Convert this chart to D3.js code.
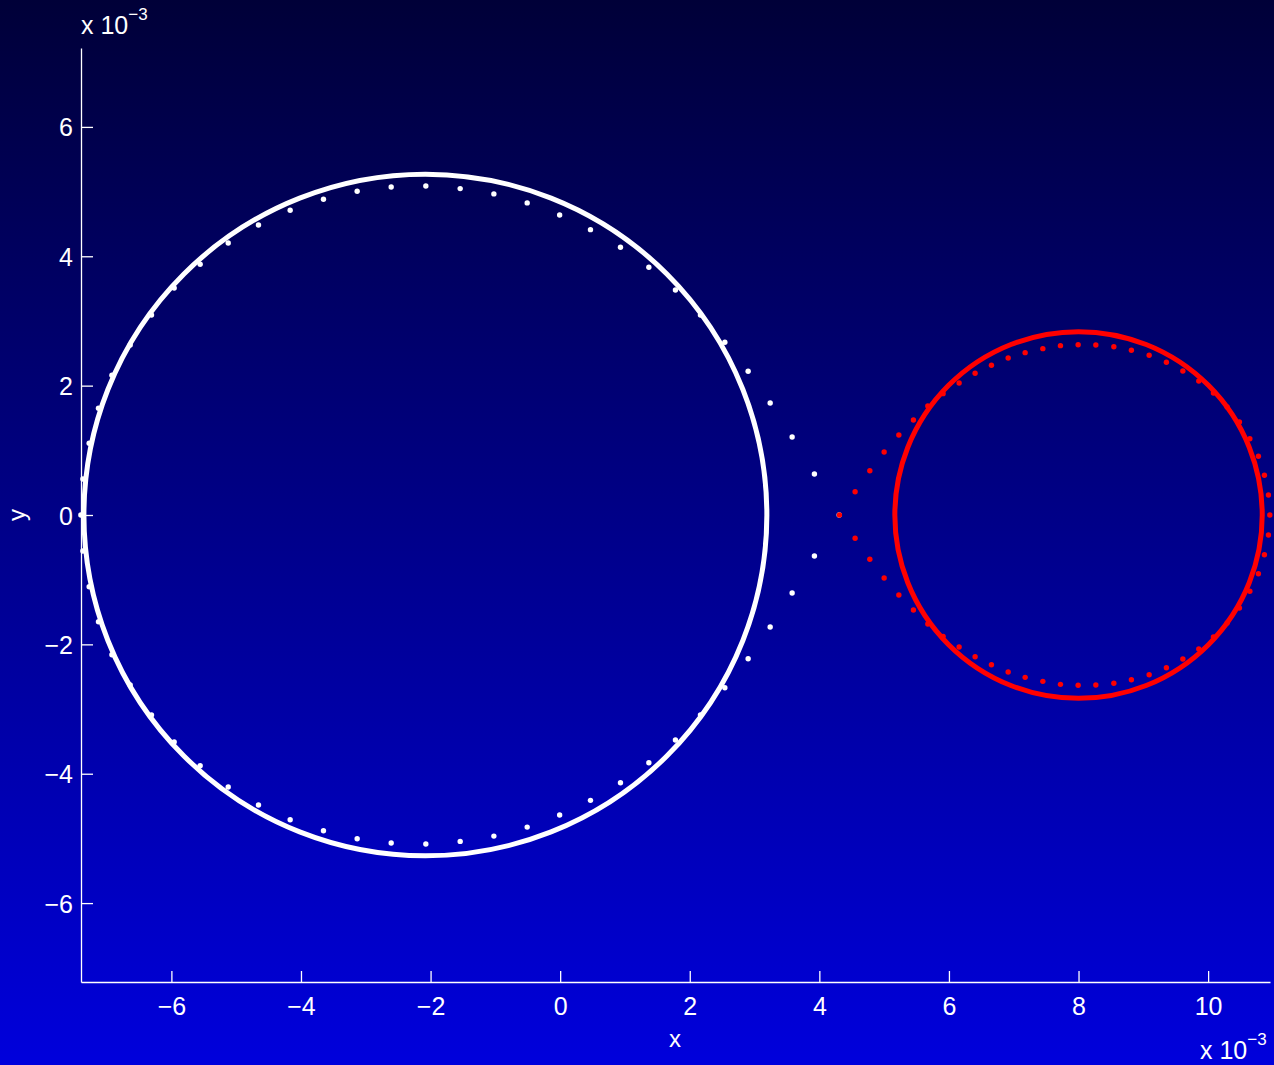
<!DOCTYPE html>
<html>
<head>
<meta charset="utf-8">
<script src="https://cdn.jsdelivr.net/npm/d3@7"></script>
<style>
  body { margin: 0; }
  text { font-family: "Liberation Sans", Arial, sans-serif; fill: #fff; }
</style>
</head>
<body>
<svg id="chart"></svg>
<script>
// values are in units of 1e-3
var xTicks = [-6, -4, -2, 0, 2, 4, 6, 8, 10];
var yTicks = [-6, -4, -2, 0, 2, 4, 6];
var xLim = [-7.395, 10.955];
var yLim = [-7.22, 7.22];

// the two reference circles: center x, center y, radius
var whiteCircle = { cx: -2.08, cy: 0, r: 5.27 };
var redCircle = { cx: 8.0, cy: 0, r: 2.835 };

// white dotted contour
var whiteX = [4.306, 3.924, 3.580, 3.241, 2.901, 2.542, 2.165, 1.779, 1.369, 0.931, 0.468, -0.008,
  -0.509, -1.023, -1.543, -2.073, -2.608, -3.133, -3.653, -4.167, -4.656, -5.123, -5.556, -5.957,
  -6.307, -6.636, -6.918, -7.125, -7.269, -7.366, -7.397,
  -7.366, -7.269, -7.125, -6.918, -6.636, -6.307, -5.957, -5.556, -5.123, -4.656, -4.167, -3.653,
  -3.133, -2.608, -2.073, -1.543, -1.023, -0.509, -0.008, 0.468, 0.931, 1.369, 1.779, 2.165, 2.542,
  2.901, 3.241, 3.580, 3.924];
var whiteY = [0, 0.634, 1.206, 1.732, 2.222, 2.670, 3.093, 3.479, 3.830, 4.139, 4.412, 4.639,
  4.825, 4.964, 5.046, 5.087, 5.072, 5.005, 4.882, 4.712, 4.484, 4.206, 3.877, 3.510,
  3.093, 2.629, 2.160, 1.650, 1.109, 0.557, 0,
  -0.557, -1.109, -1.650, -2.160, -2.629, -3.093, -3.510, -3.877, -4.206, -4.484, -4.712, -4.882,
  -5.005, -5.072, -5.087, -5.046, -4.964, -4.825, -4.639, -4.412, -4.139, -3.830, -3.479, -3.093, -2.670,
  -2.222, -1.732, -1.206, -0.634];

// red dotted contour
var redX = [4.310, 4.552, 4.779, 5.000, 5.227, 5.452, 5.674, 5.910, 6.157, 6.404, 6.656, 6.914,
  7.176, 7.449, 7.721, 7.994, 8.267, 8.545, 8.816, 9.090, 9.356, 9.610, 9.856, 10.082,
  10.293, 10.483, 10.644, 10.776, 10.869, 10.931, 10.952,
  10.931, 10.869, 10.776, 10.644, 10.483, 10.293, 10.082, 9.856, 9.610, 9.356, 9.090, 8.816,
  8.545, 8.267, 7.994, 7.721, 7.449, 7.176, 6.914, 6.656, 6.404, 6.157, 5.910, 5.674, 5.452,
  5.227, 5.000, 4.779, 4.552];
var redY = [0, 0.360, 0.685, 0.974, 1.237, 1.469, 1.685, 1.876, 2.041, 2.191, 2.315, 2.428,
  2.510, 2.572, 2.618, 2.633, 2.629, 2.602, 2.547, 2.469, 2.361, 2.227, 2.072, 1.887,
  1.670, 1.438, 1.180, 0.908, 0.614, 0.309, 0,
  -0.309, -0.614, -0.908, -1.180, -1.438, -1.670, -1.887, -2.072, -2.227, -2.361, -2.469, -2.547,
  -2.602, -2.629, -2.633, -2.618, -2.572, -2.510, -2.428, -2.315, -2.191, -2.041, -1.876, -1.685,
  -1.469, -1.237, -0.974, -0.685, -0.360];

var width = 1274, height = 1065;
var margin = { left: 81, right: 4, top: 48, bottom: 83 };

var svg = d3.select("#chart")
  .attr("width", width)
  .attr("height", height);

var defs = svg.append("defs");
var grad = defs.append("linearGradient")
  .attr("id", "bg")
  .attr("x1", 0).attr("y1", 0)
  .attr("x2", 0).attr("y2", 1);
grad.append("stop").attr("offset", "0%").attr("stop-color", "#000038");
grad.append("stop").attr("offset", "100%").attr("stop-color", "#0000dc");

svg.append("rect")
  .attr("width", width)
  .attr("height", height)
  .attr("fill", "url(#bg)");

var x = d3.scaleLinear()
  .domain(xLim)
  .range([margin.left, width - margin.right]);
var y = d3.scaleLinear()
  .domain(yLim)
  .range([height - margin.bottom, margin.top]);

// axes
var xAxis = svg.append("g")
  .attr("transform", "translate(0," + (height - margin.bottom) + ")")
  .call(d3.axisBottom(x).tickValues(xTicks).tickSizeInner(-11).tickSizeOuter(0)
    .tickFormat(function(d) { return d < 0 ? "\u2212" + (-d) : d; }));
xAxis.select(".domain").attr("stroke", "#fff").attr("stroke-width", 1.3);
xAxis.selectAll(".tick line").attr("stroke", "#fff").attr("stroke-width", 1.3);
xAxis.selectAll(".tick text")
  .attr("y", 33)
  .attr("dy", 0)
  .style("font-size", "25px");

var yAxis = svg.append("g")
  .attr("transform", "translate(" + margin.left + ",0)")
  .call(d3.axisLeft(y).tickValues(yTicks).tickSizeInner(-12).tickSizeOuter(0)
    .tickFormat(function(d) { return d < 0 ? "\u2212" + (-d) : d; }));
yAxis.select(".domain").attr("stroke", "#fff").attr("stroke-width", 1.3);
yAxis.selectAll(".tick line").attr("stroke", "#fff").attr("stroke-width", 1.3);
yAxis.selectAll(".tick text")
  .attr("x", -8)
  .attr("dy", "0.36em")
  .style("font-size", "25px");
svg.selectAll(".tick text").attr("fill", "#fff");

// exponent labels
var topExp = svg.append("text").attr("x", 81).attr("y", 34).style("font-size", "25px");
topExp.append("tspan").text("x 10");
topExp.append("tspan").attr("dy", -14).style("font-size", "17px").text("\u22123");

var botExp = svg.append("text").attr("x", 1200).attr("y", 1059).style("font-size", "25px");
botExp.append("tspan").text("x 10");
botExp.append("tspan").attr("dy", -14).style("font-size", "17px").text("\u22123");

// axis titles
svg.append("text")
  .attr("x", 675).attr("y", 1047)
  .attr("text-anchor", "middle")
  .style("font-size", "24px")
  .text("x");
svg.append("text")
  .attr("transform", "translate(25,515) rotate(-90)")
  .attr("text-anchor", "middle")
  .style("font-size", "24px")
  .text("y");

function drawCircle(c, color) {
  svg.append("ellipse")
    .attr("cx", x(c.cx))
    .attr("cy", y(c.cy))
    .attr("rx", x(c.r) - x(0))
    .attr("ry", y(0) - y(c.r))
    .attr("fill", "none")
    .attr("stroke", color)
    .attr("stroke-width", 5);
}

function drawDots(xs, ys, color) {
  svg.append("g").selectAll("circle")
    .data(d3.range(xs.length))
    .enter()
    .append("circle")
    .attr("cx", function(i) { return x(xs[i]); })
    .attr("cy", function(i) { return y(ys[i]); })
    .attr("r", 2.7)
    .attr("fill", color);
}

drawCircle(whiteCircle, "#fff");
drawDots(whiteX, whiteY, "#fff");
drawCircle(redCircle, "#ff0000");
drawDots(redX, redY, "#ff0000");
</script>
</body>
</html>
